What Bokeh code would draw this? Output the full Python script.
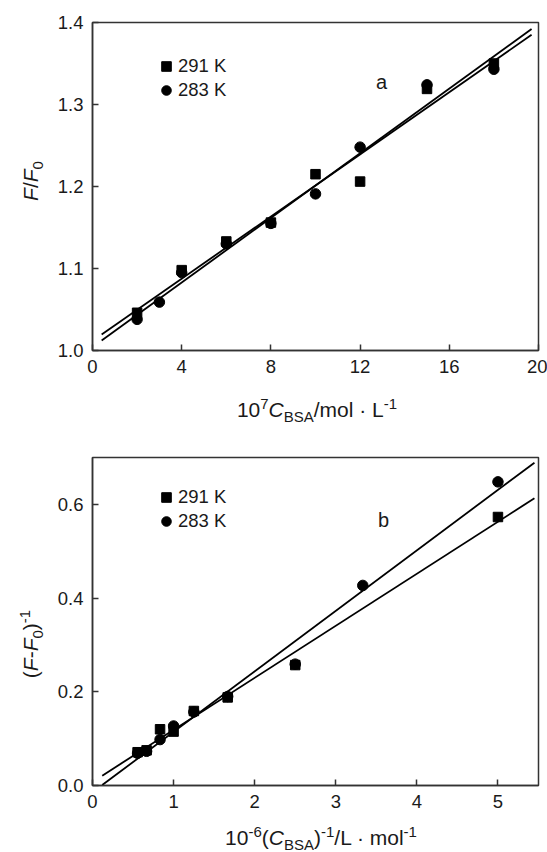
from bokeh.plotting import figure
from bokeh.models import Label, Legend, LegendItem, FixedTicker, PrintfTickFormatter, Div
from bokeh.layouts import column, row
from bokeh.embed import file_html
from bokeh.resources import INLINE

# ---------------- data: panel a (F/F0 vs 10^7 C_BSA) ----------------
a_x_291 = [2, 4, 6, 8, 10, 12, 15, 18]
a_y_291 = [1.046, 1.098, 1.133, 1.156, 1.215, 1.206, 1.319, 1.350]
a_x_283 = [2, 3, 4, 6, 8, 10, 12, 15, 18]
a_y_283 = [1.038, 1.059, 1.095, 1.130, 1.155, 1.191, 1.248, 1.324, 1.343]
a_fit_x = [0.41, 19.69]
a_fit_291 = [1.0195, 1.385]
a_fit_283 = [1.0122, 1.392]
a_xticks = [0, 4, 8, 12, 16, 20]
a_yticks = [1.0, 1.1, 1.2, 1.3, 1.4]

# ---------------- data: panel b ((F-F0)^-1 vs 10^-6 (C_BSA)^-1) ----------------
b_x_291 = [0.556, 0.667, 0.833, 1.0, 1.25, 1.667, 2.5, 5.0]
b_y_291 = [0.071, 0.075, 0.120, 0.115, 0.159, 0.188, 0.257, 0.573]
b_x_283 = [0.556, 0.667, 0.833, 1.0, 1.25, 1.667, 2.5, 3.333, 5.0]
b_y_283 = [0.069, 0.073, 0.098, 0.127, 0.157, 0.190, 0.259, 0.427, 0.648]
b_fit_x = [0.12, 5.45]
b_fit_291 = [0.021, 0.613]
b_fit_283 = [0.001, 0.689]
b_xticks = [0, 1, 2, 3, 4, 5]
b_yticks = [0.0, 0.2, 0.4, 0.6]

series_labels = ["291 K", "283 K"]

FONT = "Liberation Sans"
AXC = "#333333"
TXT = "#1a1a1a"


def sup(t):
    return f'<span style="font-size:15px;position:relative;top:-8px">{t}</span>'


def sub(t):
    return f'<span style="font-size:15px;position:relative;top:4.5px">{t}</span>'


def xtitle_div(html, w, h, left, top, width=300):
    inner = (f'<div style="position:relative;width:{w}px;height:{h}px;font-family:\'{FONT}\';color:{TXT};">'
             f'<div style="position:absolute;left:{left}px;top:{top}px;width:{width}px;text-align:center;'
             f'font-size:21px;line-height:21px;white-space:nowrap;">{html}</div></div>')
    return Div(text=inner, width=w, height=h, margin=0)


def ytitle_div(html, w, h, left, top, width=200):
    inner = (f'<div style="position:relative;width:{w}px;height:{h}px;font-family:\'{FONT}\';color:{TXT};">'
             f'<div style="position:absolute;left:{left}px;top:{top}px;width:{width}px;height:21px;'
             f'text-align:center;font-size:21px;line-height:21px;white-space:nowrap;'
             f'transform:rotate(-90deg);transform-origin:0 0;">{html}</div></div>')
    return Div(text=inner, width=w, height=h, margin=0)


def make_fig(xr, yr, height, top, bottom):
    p = figure(width=497, height=height, x_range=xr, y_range=yr,
               output_backend="svg", toolbar_location=None,
               min_border_left=42, min_border_right=9,
               min_border_top=top, min_border_bottom=bottom, margin=0)
    p.grid.visible = False
    p.outline_line_color = AXC
    p.outline_line_width = 1.5
    p.background_fill_color = "white"
    p.border_fill_color = "white"
    for ax in (p.xaxis[0], p.yaxis[0]):
        ax.axis_line_color = AXC
        ax.axis_line_width = 1.5
        ax.major_tick_line_color = AXC
        ax.major_tick_line_width = 1.5
        ax.major_tick_in = 6
        ax.major_tick_out = 0
        ax.minor_tick_line_color = None
        ax.major_label_text_font = FONT
        ax.major_label_text_font_size = "18.5px"
        ax.major_label_text_color = TXT
    p.xaxis.major_label_standoff = 9
    p.yaxis.major_label_standoff = 9
    return p


def style_legend(p, items, loc):
    lg = Legend(items=items, location=loc, background_fill_alpha=0,
                border_line_alpha=0, padding=0, margin=0, spacing=-2,
                glyph_width=24, glyph_height=24, label_standoff=0,
                label_text_font=FONT, label_text_font_size="18.5px",
                label_text_color=TXT)
    p.add_layout(lg)


# ---------------- panel a ----------------
p1 = make_fig((0, 20), (1.0, 1.4), 385, 22, 35)
p1.xaxis.ticker = FixedTicker(ticks=a_xticks)
p1.yaxis.ticker = FixedTicker(ticks=a_yticks)
p1.yaxis.formatter = PrintfTickFormatter(format="%.1f")
p1.line(a_fit_x, a_fit_291, line_color="black", line_width=1.8)
p1.line(a_fit_x, a_fit_283, line_color="black", line_width=1.8)
sq1 = p1.scatter(a_x_291, a_y_291, marker="square", size=9.5, color="black")
ci1 = p1.scatter(a_x_283, a_y_283, marker="circle", size=10.5, color="black")
style_legend(p1, [LegendItem(label=series_labels[0], renderers=[sq1]),
                  LegendItem(label=series_labels[1], renderers=[ci1])], (62, 248.5))
p1.add_layout(Label(x=289, y=268.5, x_units="screen", y_units="screen", text="a",
                    text_font=FONT, text_font_size="20px", text_color=TXT,
                    text_align="center", text_baseline="alphabetic"))

xt1 = xtitle_div("10" + sup("7") + "<i>C</i>" + sub("BSA") + "/mol · L" + sup("-1"),
                 547, 41, 167, 14)
yt1 = ytitle_div("<i>F</i>/<i>F</i>" + sub("0"), 50, 385, 20, 281)

# ---------------- panel b ----------------
p2 = make_fig((0, 5.5), (0.0, 0.7), 394, 31, 35)
p2.xaxis.ticker = FixedTicker(ticks=b_xticks)
p2.yaxis.ticker = FixedTicker(ticks=b_yticks)
p2.yaxis.formatter = PrintfTickFormatter(format="%.1f")
p2.line(b_fit_x, b_fit_291, line_color="black", line_width=1.8)
p2.line(b_fit_x, b_fit_283, line_color="black", line_width=1.8)
sq2 = p2.scatter(b_x_291, b_y_291, marker="square", size=9.5, color="black")
ci2 = p2.scatter(b_x_283, b_y_283, marker="circle", size=10.5, color="black")
style_legend(p2, [LegendItem(label=series_labels[0], renderers=[sq2]),
                  LegendItem(label=series_labels[1], renderers=[ci2])], (62, 252.5))
p2.add_layout(Label(x=291, y=266, x_units="screen", y_units="screen", text="b",
                    text_font=FONT, text_font_size="20px", text_color=TXT,
                    text_align="center", text_baseline="alphabetic"))

xt2 = xtitle_div("10" + sup("-6") + "(<i>C</i>" + sub("BSA") + ")" + sup("-1") + "/L · mol" + sup("-1"),
                 547, 32, 171, 7)
yt2 = ytitle_div("(<i>F</i>-<i>F</i>" + sub("0") + ")" + sup("-1"), 50, 394, 20, 318)

layout = column(row(yt1, p1, spacing=0), xt1, row(yt2, p2, spacing=0), xt2, spacing=0)
open("out.html", "w").write(file_html(layout, INLINE))
